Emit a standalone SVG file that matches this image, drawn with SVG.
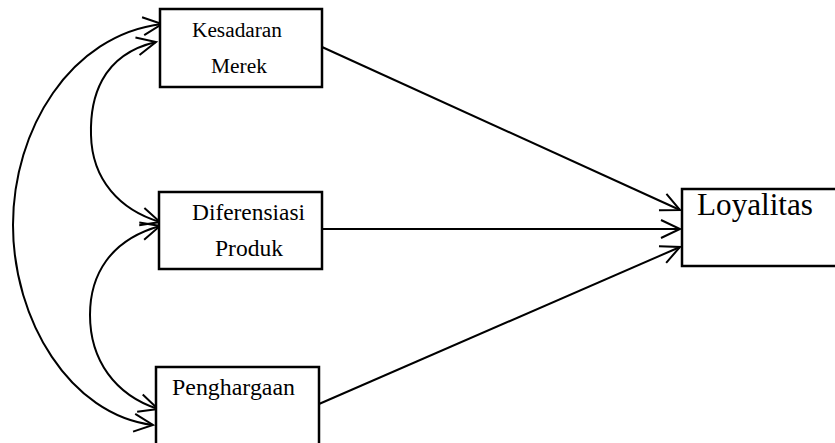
<svg xmlns="http://www.w3.org/2000/svg" width="835" height="443" viewBox="0 0 835 443">
<style>
.box{fill:#fff;stroke:#000;stroke-width:2.5}
.t{font-family:"Liberation Serif","Times New Roman",serif;fill:#000}
.c{fill:none;stroke:#000;stroke-width:2}
</style>
<defs>
<marker id="ah" markerUnits="userSpaceOnUse" markerWidth="40" markerHeight="40" refX="0" refY="0" viewBox="-25 -20 30 40" orient="auto-start-reverse" overflow="visible">
<path d="M-19,-9 L0,0 L-19,9" fill="none" stroke="#000" stroke-width="2"/>
</marker>
</defs>
<rect width="835" height="443" fill="#fff"/>
<g id="connectors">
<path class="c" d="M322,47 L680,210" marker-end="url(#ah)"/>
<path class="c" d="M322,229 L680,229" marker-end="url(#ah)"/>
<path class="c" d="M319,404 L680,247" marker-end="url(#ah)"/>
<path class="c" d="M162,24 C70,35 13,130 13,225 C13,320 70,415 153,425" marker-start="url(#ah)" marker-end="url(#ah)"/>
<path class="c" d="M156,42 C100,55 90,100 91,135 C92,180 120,210 160,222" marker-start="url(#ah)" marker-end="url(#ah)"/>
<path class="c" d="M160,226 C110,240 90,275 90,315 C90,360 115,395 158,409" marker-start="url(#ah)" marker-end="url(#ah)"/>
</g>
<g id="kesadaran">
<rect class="box" x="160" y="9" width="162" height="78"/>
<text class="t" x="192" y="37" font-size="20" textLength="90" lengthAdjust="spacingAndGlyphs">Kesadaran</text>
<text class="t" x="211" y="73" font-size="20" textLength="56" lengthAdjust="spacingAndGlyphs">Merek</text>
</g>
<g id="diferensiasi">
<rect class="box" x="159" y="192" width="163" height="77"/>
<text class="t" x="192" y="220" font-size="23" textLength="113" lengthAdjust="spacingAndGlyphs">Diferensiasi</text>
<text class="t" x="215" y="256" font-size="23" textLength="68" lengthAdjust="spacingAndGlyphs">Produk</text>
</g>
<g id="penghargaan">
<rect class="box" x="156" y="367" width="163" height="90"/>
<text class="t" x="172" y="395" font-size="23.5" textLength="123" lengthAdjust="spacingAndGlyphs">Penghargaan</text>
</g>
<g id="loyalitas">
<rect class="box" x="682" y="189" width="170" height="77"/>
<text class="t" x="697" y="215" font-size="31" textLength="116" lengthAdjust="spacingAndGlyphs">Loyalitas</text>
</g>
</svg>
